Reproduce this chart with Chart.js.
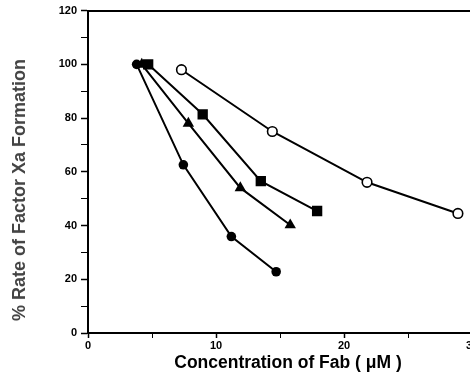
<!DOCTYPE html>
<html><head><meta charset="utf-8">
<script src="https://cdn.jsdelivr.net/npm/chart.js@4.4.0/dist/chart.umd.min.js"></script>
<style>
html,body{margin:0;padding:0;background:#fff;overflow:hidden;width:470px;height:379px;}
#wrap{position:relative;width:480px;height:379px;}
canvas{display:block;}
.ttl{position:absolute;white-space:nowrap;font-family:'Liberation Sans',Arial,sans-serif;font-weight:bold;line-height:1;}
#xt{left:288px;top:363px;transform:translate(-50%,-50%);font-size:17.5px;color:#000;}
#yt{left:19px;top:190px;transform:translate(-50%,-50%) rotate(-90deg);font-size:18px;color:#444;}
</style></head>
<body>
<div id="wrap"><canvas id="c" width="480" height="379"></canvas>
<div class="ttl" id="xt">Concentration of Fab ( &#956;M )</div>
<div class="ttl" id="yt">% Rate of Factor Xa Formation</div>
</div>
<script>
const xTicks = [0, 10, 20, 30];
const yTicks = [0, 20, 40, 60, 80, 100, 120];
const seriesCircleX = [3.8, 7.45, 11.2, 14.7];
const seriesCircleY = [100, 62.6, 35.9, 22.8];
const seriesTriangleX = [4.2, 7.84, 11.9, 15.8];
const seriesTriangleY = [100, 78.0, 54.0, 40.2];
const seriesSquareX = [4.7, 8.96, 13.5, 17.9];
const seriesSquareY = [100, 81.4, 56.5, 45.4];
const seriesOpenX = [7.3, 14.4, 21.8, 28.9];
const seriesOpenY = [98.0, 75.0, 56.1, 44.5];

function pts(xs, ys){ return xs.map((x,i)=>({x:x, y:ys[i]})); }

const FONT = "'Liberation Sans', Arial, sans-serif";

new Chart(document.getElementById('c'), {
  type: 'line',
  data: {
    datasets: [
      {data: pts(seriesOpenX, seriesOpenY), borderColor:'#000', borderWidth:2, pointStyle:'circle', pointRadius:4.8, pointBackgroundColor:'#fff', pointBorderColor:'#000', pointBorderWidth:1.6},
      {data: pts(seriesSquareX, seriesSquareY), borderColor:'#000', borderWidth:2, pointStyle:'rect', pointRadius:7.3, pointBackgroundColor:'#000', pointBorderColor:'#000', pointBorderWidth:0},
      {data: pts(seriesTriangleX, seriesTriangleY), borderColor:'#000', borderWidth:2, pointStyle:'triangle', pointRadius:6.6, pointBackgroundColor:'#000', pointBorderColor:'#000', pointBorderWidth:0},
      {data: pts(seriesCircleX, seriesCircleY), borderColor:'#000', borderWidth:2, pointStyle:'circle', pointRadius:4.8, pointBackgroundColor:'#000', pointBorderColor:'#000', pointBorderWidth:0}
    ]
  },
  options: {
    responsive: false,
    animation: false,
    devicePixelRatio: 1,
    layout: {padding: {top: 9, right: 8, left: 0, bottom: 0}},
    plugins: {legend:{display:false}, tooltip:{enabled:false}},
    scales: {
      x: {
        type: 'linear', position: 'bottom', min: xTicks[0], max: xTicks[xTicks.length-1],
        afterFit: s => { s.height = 46; },
        border: {color:'#000', width:2},
        grid: {drawOnChartArea:false, tickLength:5, color:'#000', tickWidth: c => (c.tick && c.tick.value % 10 === 0) ? 1.5 : 1},
        ticks: {stepSize:5, color:'#000', padding:1, maxRotation:0, autoSkip:false,
          font:{family:FONT, size:11, weight:'bold'},
          callback: v => xTicks.includes(v) ? String(v) : ''}
      },
      xTop: {
        type:'linear', position:'top', min: xTicks[0], max: xTicks[xTicks.length-1],
        border:{color:'#000', width:2},
        grid:{display:false, drawTicks:false},
        ticks:{display:false}
      },
      y: {
        type: 'linear', min: yTicks[0], max: yTicks[yTicks.length-1],
        afterFit: s => { s.width = 88; },
        border: {color:'#000', width:2},
        grid: {drawOnChartArea:false, tickLength:7, color:'#000', tickWidth: c => (c.tick && c.tick.value % 20 === 0) ? 1.5 : 1},
        ticks: {stepSize:10, color:'#000', padding:4, autoSkip:false,
          font:{family:FONT, size:11, weight:'bold'},
          callback: v => yTicks.includes(v) ? String(v) : ''}
      }
    }
  }
});
</script>
</body></html>
